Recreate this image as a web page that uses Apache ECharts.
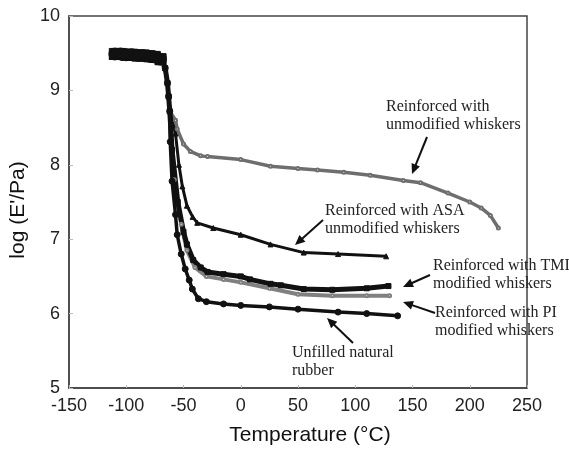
<!DOCTYPE html>
<html><head><meta charset="utf-8">
<script src="https://cdn.jsdelivr.net/npm/echarts@6/dist/echarts.min.js"></script>
<style>html,body{margin:0;padding:0;background:#fff}#c{width:569px;height:451px}</style>
</head><body><div id="c"></div>
<script>
// Shared glassy plateau and onset of the transition
var plateau = [[-110,9.49],[-105,9.49],[-100,9.48],[-95,9.48],[-90,9.47],[-85,9.47],[-80,9.46],[-75,9.45],[-70,9.42],[-66,9.30],[-64,9.10],[-63,8.92],[-62,8.72]];
var unmodified = [[-57,8.60],[-55.5,8.48],[-50,8.28],[-44,8.18],[-35,8.12],[-29,8.11],[0,8.07],[26,7.98],[50,7.95],[67,7.93],[90,7.90],[113,7.86],[142,7.79],[157,7.76],[181,7.62],[200,7.50],[210,7.42],[218,7.32],[225,7.15]];
var asa = [[-57,8.42],[-54,8.00],[-51,7.71],[-47,7.45],[-42,7.30],[-38,7.22],[-24,7.15],[0,7.06],[26,6.93],[55,6.82],[85,6.80],[127,6.77]];
var tmi = [[-60,8.20],[-55,7.50],[-50,7.10],[-47,6.93],[-41.5,6.72],[-35,6.62],[-29,6.56],[-15,6.53],[0,6.50],[8,6.46],[26,6.40],[35,6.38],[55,6.33],[80,6.32],[110,6.34],[129,6.37]];
var pi = [[-58,7.80],[-52,7.20],[-47,6.85],[-40,6.62],[-30,6.50],[-15,6.46],[0,6.42],[25,6.34],[50,6.26],[80,6.24],[110,6.24],[130,6.24]];
var nr = [[-61.6,8.31],[-60,7.78],[-57,7.33],[-55.5,7.06],[-52,6.80],[-48.5,6.60],[-45,6.45],[-42.3,6.33],[-37,6.20],[-30,6.16],[-15,6.13],[0,6.11],[25,6.09],[50,6.06],[85,6.02],[110,6.00],[137,5.97]];

var xTicks = {min:-150, max:250, interval:50};
var yTicks = {min:5, max:10, interval:1};

var xName = 'Temperature (°C)';
var yName = "log (E'/Pa)";

var notes = [
  {lines:['Reinforced with','unmodified whiskers'], x:386, y:106, tail:[427,137], tip:[412,174]},
  {lines:['Reinforced with ASA','unmodified whiskers'], x:325, y:210, tail:[323,220], tip:[295,245]},
  {lines:['Reinforced with TMI','modified whiskers'], x:433, y:265, tail:[430,275], tip:[403,287]},
  {lines:['Reinforced with PI','modified whiskers'], x:435, y:312, tail:[435,313], tip:[403,302]},
  {lines:['Unfilled natural','rubber'], x:292, y:352, tail:[353,343], tip:[327,318]}
];

var chart = echarts.init(document.getElementById('c'));
var graphics = [];
notes.forEach(function(n){
  n.lines.forEach(function(t,i){
    graphics.push({type:'text', left:n.x, top:n.y - 7 + i*18, style:{text:t, fill:'#222', font:'16px "Liberation Serif", "Times New Roman", serif'}});
  });
  var dx = n.tip[0]-n.tail[0], dy = n.tip[1]-n.tail[1];
  var L = Math.sqrt(dx*dx+dy*dy), ux = dx/L, uy = dy/L;
  var hl = 10, hw = 4.5;
  var bx = n.tip[0]-ux*hl, by = n.tip[1]-uy*hl;
  graphics.push({type:'line', shape:{x1:n.tail[0], y1:n.tail[1], x2:bx+ux*2, y2:by+uy*2}, style:{stroke:'#111', lineWidth:2}});
  graphics.push({type:'polygon', shape:{points:[[n.tip[0],n.tip[1]],[bx-uy*hw,by+ux*hw],[bx+uy*hw,by-ux*hw]]}, style:{fill:'#111'}});
});

function ser(name, data, color, width, symbol, size){
  return {name:name, type:'line', data:plateau.concat(data), showSymbol: !!symbol, symbol: symbol || 'none',
    symbolSize: function(v){ return v[1] > 9.35 ? 11 : size; },
    itemStyle:{color:color, borderColor:color}, lineStyle:{color:color, width:width}, animation:false, z:3};
}

chart.setOption({
  animation:false,
  grid:{left:69, right:42, top:16, bottom:60, show:true, borderColor:'#444', borderWidth:1.5},
  xAxis:{type:'value', min:xTicks.min, max:xTicks.max, interval:xTicks.interval,
    name:xName, nameLocation:'middle', nameGap:37,
    nameTextStyle:{fontSize:21, color:'#111', fontFamily:'"Liberation Sans", Arial, sans-serif', padding:[0,0,0,24]},
    axisLine:{show:true, onZero:false, lineStyle:{color:'#444', width:1.5}},
    axisTick:{show:true, inside:true, length:3, lineStyle:{color:'#bbb'}},
    axisLabel:{fontSize:18, color:'#222', margin:9, fontFamily:'"Liberation Sans", Arial, sans-serif'},
    splitLine:{show:false}},
  yAxis:{type:'value', min:yTicks.min, max:yTicks.max, interval:yTicks.interval,
    name:yName, nameLocation:'middle', nameGap:40,
    nameTextStyle:{fontSize:21, color:'#111', fontFamily:'"Liberation Sans", Arial, sans-serif', padding:[0,16,0,0]},
    axisLine:{show:true, onZero:false, lineStyle:{color:'#444', width:1.5}},
    axisTick:{show:true, inside:true, length:4, lineStyle:{color:'#bbb'}},
    axisLabel:{fontSize:18, color:'#222', margin:9, fontFamily:'"Liberation Sans", Arial, sans-serif'},
    splitLine:{show:false}},
  series:[
    ser('Reinforced with unmodified whiskers', unmodified, '#6e6e6e', 3.5, 'emptyCircle', 3),
    ser('Reinforced with PI modified whiskers', pi, '#808080', 4, 'emptyCircle', 3),
    ser('Reinforced with ASA unmodified whiskers', asa, '#111', 3, 'triangle', 5),
    ser('Reinforced with TMI modified whiskers', tmi, '#111', 5, 'rect', 5),
    ser('Unfilled natural rubber', nr, '#111', 3.5, 'circle', 6)
  ],
  graphic: graphics
});
</script></body></html>
